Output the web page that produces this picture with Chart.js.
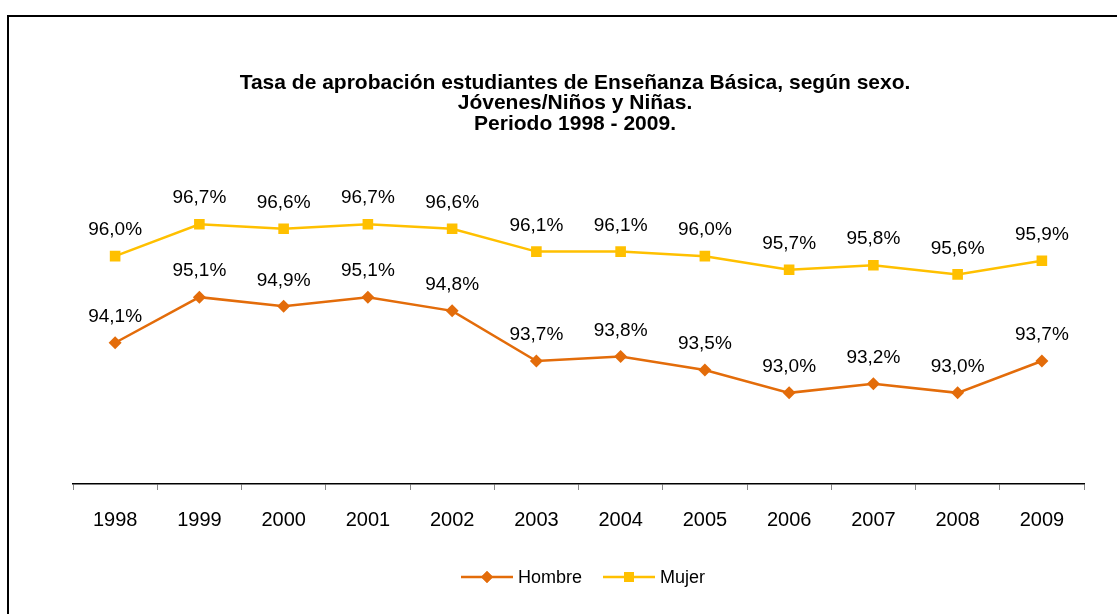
<!DOCTYPE html>
<html>
<head>
<meta charset="utf-8">
<script src="https://cdn.jsdelivr.net/npm/chart.js@4.4.0/dist/chart.umd.min.js"></script>
<style>
  html, body { margin: 0; padding: 0; background: #fff; }
  #wrap { position: relative; width: 1117px; height: 614px; }
</style>
</head>
<body>
<div id="wrap"><canvas id="chart"></canvas></div>
<script>
const years = ["1998","1999","2000","2001","2002","2003","2004","2005","2006","2007","2008","2009"];
const hombre = [94.1, 95.1, 94.9, 95.1, 94.8, 93.7, 93.8, 93.5, 93.0, 93.2, 93.0, 93.7];
const mujer  = [96.0, 96.7, 96.6, 96.7, 96.6, 96.1, 96.1, 96.0, 95.7, 95.8, 95.6, 95.9];
const titleLines = [
  "Tasa de aprobación estudiantes de Enseñanza Básica, según sexo.",
  "Jóvenes/Niños y Niñas.",
  "Periodo 1998 - 2009."
];

const ORANGE = "#E36C0A";
const GOLD = "#FFC000";
const FONT = "Liberation Sans, Arial, sans-serif";

const fmt = v => v.toFixed(1).replace(".", ",") + "%";

// marco, título, etiquetas y leyenda
const decor = {
  id: "decor",
  beforeDraw(chart) {
    const ctx = chart.ctx;
    ctx.save();
    ctx.fillStyle = "#fff";
    ctx.fillRect(0, 0, chart.width, chart.height);
    ctx.strokeStyle = "#000";
    ctx.lineWidth = 2;
    ctx.strokeRect(8, 16, 1300, 800);
    ctx.restore();
  },
  afterDraw(chart) {
    const ctx = chart.ctx;
    ctx.save();
    ctx.fillStyle = "#000";
    ctx.textAlign = "center";
    ctx.textBaseline = "middle";
    ctx.font = "bold 21px " + FONT;
    titleLines.forEach((t, i) => ctx.fillText(t, 575, 83 + i * 20.5));

    ctx.font = "19px " + FONT;
    chart.data.datasets.forEach((ds, di) => {
      chart.getDatasetMeta(di).data.forEach((pt, i) => {
        ctx.fillText(fmt(ds.data[i]), pt.x, pt.y - 26);
      });
    });

    // leyenda
    ctx.font = "18px " + FONT;
    ctx.textAlign = "left";
    const items = [
      { x: 461, label: "Hombre", color: ORANGE, shape: "rectRot", r: 6 },
      { x: 603, label: "Mujer", color: GOLD, shape: "rect", r: 7 }
    ];
    const ly = 577;
    items.forEach(it => {
      ctx.strokeStyle = it.color;
      ctx.lineWidth = 2.5;
      ctx.beginPath();
      ctx.moveTo(it.x, ly);
      ctx.lineTo(it.x + 52, ly);
      ctx.stroke();
      ctx.fillStyle = it.color;
      Chart.helpers.drawPoint(ctx, { pointStyle: it.shape, radius: it.r, borderWidth: 0 }, it.x + 26, ly);
      ctx.fill();
      ctx.fillStyle = "#000";
      ctx.fillText(it.label, it.x + 57, ly + 1);
    });
    ctx.restore();
  }
};

new Chart(document.getElementById("chart"), {
  type: "line",
  data: {
    labels: years,
    datasets: [
      {
        label: "Hombre",
        data: hombre,
        borderColor: ORANGE,
        backgroundColor: ORANGE,
        borderWidth: 2.5,
        pointStyle: "rectRot",
        pointRadius: 6.5,
        pointBorderWidth: 0,
        tension: 0
      },
      {
        label: "Mujer",
        data: mujer,
        borderColor: GOLD,
        backgroundColor: GOLD,
        borderWidth: 2.5,
        pointStyle: "rect",
        pointRadius: 7.5,
        pointBorderWidth: 0,
        tension: 0
      }
    ]
  },
  options: {
    responsive: true,
    maintainAspectRatio: false,
    animation: false,
    layout: { padding: { left: 73, right: 33, top: 165, bottom: 64 } },
    plugins: {
      legend: { display: false },
      title: { display: false },
      tooltip: { enabled: false }
    },
    scales: {
      x: {
        offset: true,
        border: { color: "#000", width: 1.5 },
        grid: { offset: true, drawOnChartArea: false, tickLength: 6, color: "#888" },
        ticks: { color: "#000", font: { family: FONT, size: 20 }, padding: 18 }
      },
      y: {
        display: false,
        min: 91,
        max: 98
      }
    }
  },
  plugins: [decor]
});
</script>
</body>
</html>
